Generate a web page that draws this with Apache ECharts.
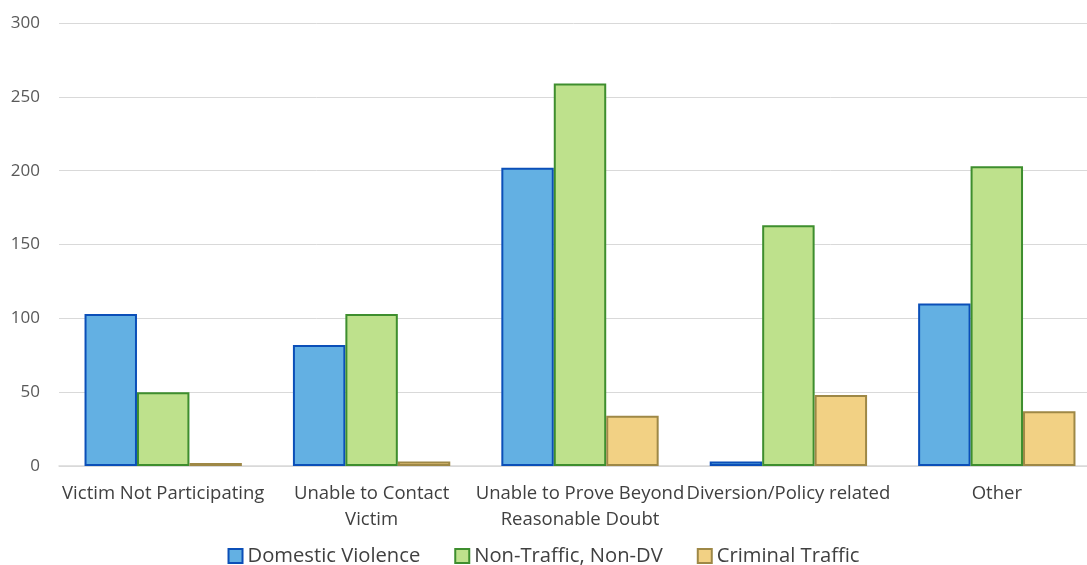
<!DOCTYPE html>
<html><head><meta charset="utf-8">
<script src="https://cdn.jsdelivr.net/npm/echarts@6/dist/echarts.min.js"></script>
<style>html,body{margin:0;padding:0;background:#fff;overflow:hidden}#c{width:1087px;height:565px}</style>
</head><body><div id="c"></div>
<script>
const categories = ['Victim Not Participating', 'Unable to Contact\nVictim', 'Unable to Prove Beyond\nReasonable Doubt', 'Diversion/Policy related', 'Other'];
const domesticViolence = [103, 82, 202, 3, 110];
const nonTrafficNonDV = [50, 103, 259, 163, 203];
const criminalTraffic = [2, 3, 34, 48, 37];
const yTicks = [0, 50, 100, 150, 200, 250, 300];

const font = '"Open Sans", "Noto Sans", sans-serif';
const chart = echarts.init(document.getElementById('c'));
function s(name, data, fill, border) {
  return {
    name, type: 'bar', data,
    barGap: '0%', barCategoryGap: '24.5%',
    itemStyle: { color: fill, borderColor: border, borderWidth: 2 },
    emphasis: { disabled: true }
  };
}
chart.setOption({
  animation: false,
  textStyle: { fontFamily: font },
  grid: { left: 59, width: 1042, top: 23, bottom: 99, outerBoundsMode: 'none', containLabel: false },
  legend: {
    top: 541, left: 'center', itemWidth: 14, itemHeight: 14, itemGap: 34,
    icon: 'rect',
    textStyle: { fontSize: 20.2, color: '#404040', fontFamily: font }
  },
  xAxis: {
    type: 'category', data: categories,
    axisLine: { lineStyle: { color: '#d9d9d9', width: 1.5 } },
    axisTick: { show: false },
    axisLabel: { interval: 0, fontSize: 18.5, color: '#404040', margin: 15, lineHeight: 26, fontFamily: font }
  },
  yAxis: {
    type: 'value', min: yTicks[0], max: yTicks[yTicks.length - 1], interval: 50,
    axisLine: { show: false }, axisTick: { show: false },
    axisLabel: { fontSize: 17, color: '#595959', margin: 19, fontFamily: font },
    splitLine: { lineStyle: { color: '#d9d9d9', width: 1 } }
  },
  series: [
    s('Domestic Violence', domesticViolence, '#63B0E3', '#0B4FB8'),
    s('Non-Traffic, Non-DV', nonTrafficNonDV, '#BEE18C', '#3E8E2E'),
    s('Criminal Traffic', criminalTraffic, '#F2D184', '#9E8846')
  ]
});
</script></body></html>
